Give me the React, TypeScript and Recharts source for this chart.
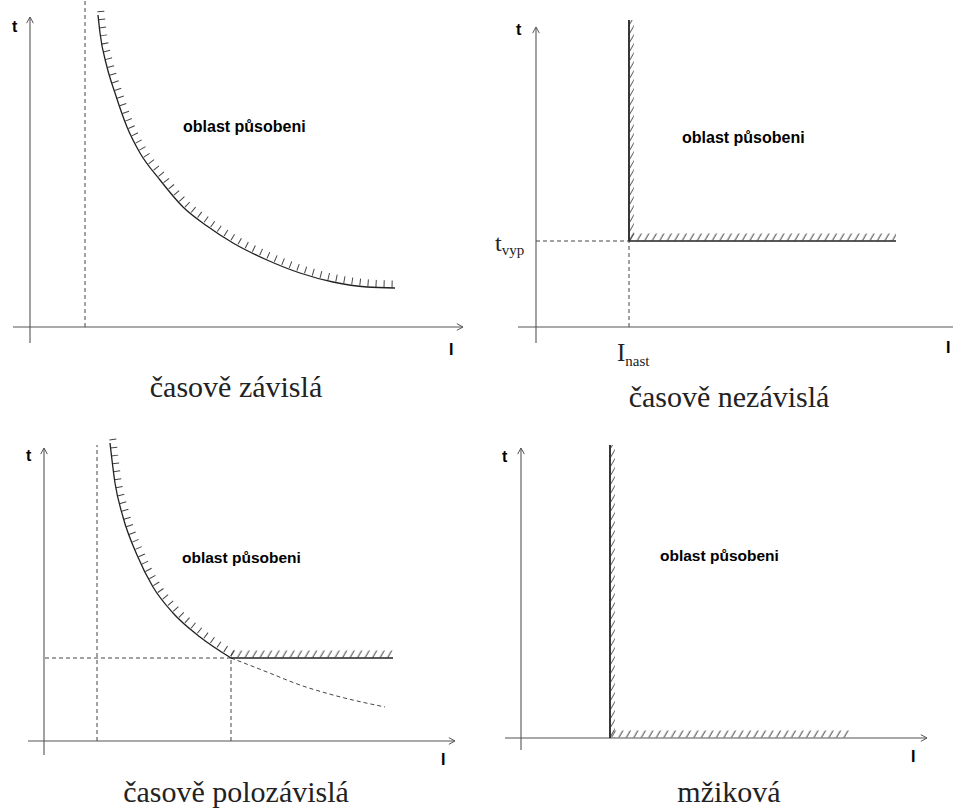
import { LineChart, Line, XAxis, YAxis, ReferenceLine } from "recharts";

type Pt = { I: number; t: number };

// časově závislá
const dependentCurve: Pt[] = [
  { I: 68, t: 312 },
  { I: 70, t: 294 },
  { I: 77, t: 260 },
  { I: 85, t: 234 },
  { I: 97, t: 200 },
  { I: 110, t: 174 },
  { I: 130, t: 147 },
  { I: 153, t: 120 },
  { I: 177, t: 101 },
  { I: 203, t: 84 },
  { I: 237, t: 67 },
  { I: 270, t: 54 },
  { I: 303, t: 45 },
  { I: 337, t: 40 },
  { I: 365, t: 39 },
];
const dependentAsymptote: Pt[] = [
  { I: 55, t: 0 },
  { I: 55, t: 327 },
];

// časově nezávislá
const independentVertical: Pt[] = [
  { I: 93, t: 86 },
  { I: 93, t: 307 },
];
const independentFlat: Pt[] = [
  { I: 93, t: 86 },
  { I: 360, t: 86 },
];
const tvypGuide: Pt[] = [
  { I: 0, t: 86 },
  { I: 93, t: 86 },
];
const inastGuide: Pt[] = [
  { I: 93, t: 0 },
  { I: 93, t: 86 },
];

// časově polozávislá
const semiCurve: Pt[] = [
  { I: 66, t: 298 },
  { I: 71, t: 258 },
  { I: 79, t: 224 },
  { I: 93, t: 186 },
  { I: 109, t: 154 },
  { I: 129, t: 128 },
  { I: 156, t: 104 },
  { I: 187, t: 83 },
];
const semiTail: Pt[] = [
  { I: 187, t: 83 },
  { I: 223, t: 69 },
  { I: 256, t: 56 },
  { I: 289, t: 46 },
  { I: 341, t: 34 },
];
const semiFlat: Pt[] = [
  { I: 187, t: 83 },
  { I: 349, t: 83 },
];
const semiAsymptote: Pt[] = [
  { I: 53, t: 0 },
  { I: 53, t: 296 },
];
const semiGuideH: Pt[] = [
  { I: 1, t: 83 },
  { I: 187, t: 83 },
];
const semiGuideV: Pt[] = [
  { I: 187, t: 0 },
  { I: 187, t: 83 },
];

// mžiková
const instantVertical: Pt[] = [
  { I: 89, t: 0 },
  { I: 89, t: 293 },
];
const instantFlat: Pt[] = [
  { I: 89, t: 0 },
  { I: 329, t: 0 },
];

type Kind = "solid" | "heavy" | "dashed" | "hatchCurve" | "hatchH" | "hatchV";
type Series = { data: Pt[]; kind: Kind; curve?: boolean };

type PanelProps = {
  left: number;
  top: number;
  width: number;
  height: number;
  xDomain: [number, number];
  yDomain: [number, number];
  xAxisLine: [number, number];
  yAxisLine: [number, number];
  series: Series[];
};

const AxisArrow = (props: any) => {
  const { x1, y1, x2, y2 } = props;
  const a = Math.atan2(y2 - y1, x2 - x1);
  const len = 7;
  const spread = 0.5;
  const ax = x2 - len * Math.cos(a - spread);
  const ay = y2 - len * Math.sin(a - spread);
  const bx = x2 - len * Math.cos(a + spread);
  const by = y2 - len * Math.sin(a + spread);
  return (
    <g>
      <line x1={x1} y1={y1} x2={x2} y2={y2} stroke="#555" strokeWidth={1.1} />
      <polyline
        points={`${ax},${ay} ${x2},${y2} ${bx},${by}`}
        fill="none"
        stroke="#555"
        strokeWidth={1}
      />
    </g>
  );
};

function renderSeries(s: Series, i: number) {
  const common = {
    data: s.data,
    dataKey: "t",
    dot: false,
    activeDot: false,
    isAnimationActive: false,
    type: s.curve ? ("monotoneX" as const) : ("linear" as const),
  };
  if (s.kind === "solid" || s.kind === "heavy") {
    return (
      <Line
        key={i}
        {...common}
        xAxisId="main"
        yAxisId="main"
        stroke="#222"
        strokeWidth={s.kind === "heavy" ? 1.8 : 1.3}
      />
    );
  }
  if (s.kind === "dashed") {
    return (
      <Line
        key={i}
        {...common}
        xAxisId="main"
        yAxisId="main"
        stroke="#444"
        strokeWidth={1}
        strokeDasharray="4 3"
      />
    );
  }
  if (s.kind === "hatchCurve") {
    return (
      <Line
        key={i}
        {...common}
        xAxisId="right"
        yAxisId="up"
        stroke="#444"
        strokeWidth={7}
        strokeDasharray="1 7"
      />
    );
  }
  if (s.kind === "hatchH") {
    return (
      <Line
        key={i}
        {...common}
        xAxisId="main"
        yAxisId="up"
        stroke="url(#hatchH)"
        strokeWidth={7}
      />
    );
  }
  return (
    <Line
      key={i}
      {...common}
      xAxisId="right"
      yAxisId="main"
      stroke="url(#hatchV)"
      strokeWidth={4}
    />
  );
}

function Panel(p: PanelProps) {
  const [x0, x1] = p.xDomain;
  const [y0, y1] = p.yDomain;
  return (
    <div style={{ position: "absolute", left: p.left, top: p.top }}>
      <LineChart width={p.width} height={p.height} margin={{ top: 0, right: 0, bottom: 0, left: 0 }}>
        <XAxis xAxisId="main" type="number" dataKey="I" domain={p.xDomain} allowDataOverflow hide />
        <XAxis xAxisId="right" type="number" dataKey="I" domain={[x0 - 2.8, x1 - 2.8]} allowDataOverflow hide />
        <YAxis yAxisId="main" type="number" domain={p.yDomain} allowDataOverflow hide />
        <YAxis yAxisId="up" type="number" domain={[y0 - 4, y1 - 4]} allowDataOverflow hide />
        <ReferenceLine
          xAxisId="main"
          yAxisId="main"
          ifOverflow="visible"
          segment={[
            { x: p.xAxisLine[0], y: 0 },
            { x: p.xAxisLine[1], y: 0 },
          ]}
          shape={AxisArrow}
        />
        <ReferenceLine
          xAxisId="main"
          yAxisId="main"
          ifOverflow="visible"
          segment={[
            { x: 0, y: p.yAxisLine[0] },
            { x: 0, y: p.yAxisLine[1] },
          ]}
          shape={AxisArrow}
        />
        {p.series.map(renderSeries)}
      </LineChart>
    </div>
  );
}

const sans = "'Liberation Sans', Arial, sans-serif";
const serif = "'Liberation Serif', 'Times New Roman', serif";

export default function App() {
  return (
    <div
      style={{
        position: "absolute",
        left: 0,
        top: 0,
        width: 953,
        height: 810,
        background: "#fff",
        overflow: "hidden",
      }}
    >
      <Panel
        left={0}
        top={0}
        width={470}
        height={400}
        xDomain={[-30, 440]}
        yDomain={[-73, 327]}
        xAxisLine={[-17, 433]}
        yAxisLine={[-16, 310]}
        series={[
          { data: dependentAsymptote, kind: "dashed" },
          { data: dependentCurve, kind: "hatchCurve", curve: true },
          { data: dependentCurve, kind: "solid", curve: true },
        ]}
      />
      <Panel
        left={480}
        top={0}
        width={473}
        height={400}
        xDomain={[-56, 417]}
        yDomain={[-73, 327]}
        xAxisLine={[-18, 430]}
        yAxisLine={[-16, 300]}
        series={[
          { data: tvypGuide, kind: "dashed" },
          { data: inastGuide, kind: "dashed" },
          { data: independentVertical, kind: "hatchV" },
          { data: independentFlat, kind: "hatchH" },
          { data: independentVertical, kind: "heavy" },
          { data: independentFlat, kind: "solid" },
        ]}
      />
      <Panel
        left={0}
        top={400}
        width={470}
        height={410}
        xDomain={[-44, 426]}
        yDomain={[-69, 341]}
        xAxisLine={[-16, 411]}
        yAxisLine={[-14, 293]}
        series={[
          { data: semiAsymptote, kind: "dashed" },
          { data: semiGuideH, kind: "dashed" },
          { data: semiGuideV, kind: "dashed" },
          { data: semiTail, kind: "dashed", curve: true },
          { data: semiCurve, kind: "hatchCurve", curve: true },
          { data: semiFlat, kind: "hatchH" },
          { data: semiCurve, kind: "solid", curve: true },
          { data: semiFlat, kind: "solid" },
        ]}
      />
      <Panel
        left={480}
        top={400}
        width={473}
        height={410}
        xDomain={[-41, 432]}
        yDomain={[-72, 338]}
        xAxisLine={[-16, 406]}
        yAxisLine={[-12, 290]}
        series={[
          { data: instantVertical, kind: "hatchV" },
          { data: instantFlat, kind: "hatchH" },
          { data: instantVertical, kind: "heavy" },
        ]}
      />

      <svg
        width={953}
        height={810}
        style={{ position: "absolute", left: 0, top: 0, pointerEvents: "none" }}
      >
        <defs>
          <pattern
            id="hatchH"
            width={6.5}
            height={12}
            patternUnits="userSpaceOnUse"
            patternTransform="rotate(30)"
          >
            <line x1={3} y1={0} x2={3} y2={12} stroke="#444" strokeWidth={1} />
          </pattern>
          <pattern
            id="hatchV"
            width={4.5}
            height={12}
            patternUnits="userSpaceOnUse"
            patternTransform="rotate(30)"
          >
            <line x1={2.2} y1={0} x2={2.2} y2={12} stroke="#444" strokeWidth={0.9} />
          </pattern>
        </defs>

        {/* časově závislá */}
        <text x={12} y={32} fontFamily={sans} fontWeight="bold" fontSize={16}>t</text>
        <text x={449} y={355} fontFamily={sans} fontWeight="bold" fontSize={16}>I</text>
        <text x={183} y={132} fontFamily={sans} fontWeight="bold" fontSize={16}>oblast působeni</text>
        <text x={236} y={397} fontFamily={serif} fontSize={30} textAnchor="middle" fill="#222">
          časově závislá
        </text>

        {/* časově nezávislá */}
        <text x={516} y={35} fontFamily={sans} fontWeight="bold" fontSize={16}>t</text>
        <text x={946} y={353} fontFamily={sans} fontWeight="bold" fontSize={16}>I</text>
        <text x={682} y={143} fontFamily={sans} fontWeight="bold" fontSize={16}>oblast působeni</text>
        <text x={495} y={251} fontFamily={serif} fontSize={24} fill="#222">
          t<tspan fontSize={15} dy={4}>vyp</tspan>
        </text>
        <text x={617} y={361} fontFamily={serif} fontSize={25} fill="#222">
          I<tspan fontSize={15} dy={5}>nast</tspan>
        </text>
        <text x={729} y={407} fontFamily={serif} fontSize={30} textAnchor="middle" fill="#222">
          časově nezávislá
        </text>

        {/* časově polozávislá */}
        <text x={26} y={461} fontFamily={sans} fontWeight="bold" fontSize={16}>t</text>
        <text x={441} y={765} fontFamily={sans} fontWeight="bold" fontSize={16}>I</text>
        <text x={182} y={563} fontFamily={sans} fontWeight="bold" fontSize={15.5}>oblast působeni</text>
        <text x={236} y={802} fontFamily={serif} fontSize={30} textAnchor="middle" fill="#222">
          časově polozávislá
        </text>

        {/* mžiková */}
        <text x={502} y={462} fontFamily={sans} fontWeight="bold" fontSize={16}>t</text>
        <text x={911} y={762} fontFamily={sans} fontWeight="bold" fontSize={16}>I</text>
        <text x={660} y={561} fontFamily={sans} fontWeight="bold" fontSize={15.5}>oblast působeni</text>
        <text x={729} y={802} fontFamily={serif} fontSize={30} textAnchor="middle" fill="#222">
          mžiková
        </text>
      </svg>
    </div>
  );
}
